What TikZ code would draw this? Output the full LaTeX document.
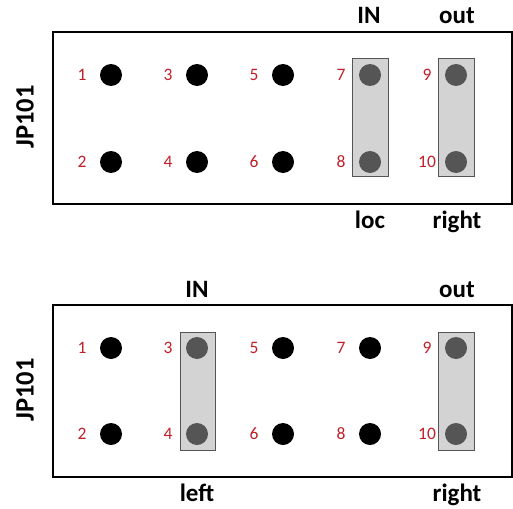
\documentclass[tikz,border=0pt]{standalone}
\usepackage{fontspec}
\setmainfont{Carlito}
\definecolor{pinred}{HTML}{C0202A}
\definecolor{jfill}{HTML}{D3D3D3}
\definecolor{jdraw}{HTML}{555555}
\definecolor{jpin}{HTML}{555555}
\tikzset{
  board/.style={draw=black, line width=2.4pt, fill=white},
  pin/.style={circle, fill=black, minimum size=22pt, inner sep=0pt},
  jpinstyle/.style={circle, fill=jpin, minimum size=22pt, inner sep=0pt},
  jumper/.style={draw=jdraw, line width=1pt, fill=jfill},
  num/.style={text=pinred, font=\fontsize{17.5}{20}\selectfont, inner sep=0pt},
  lbl/.style={font=\fontsize{25}{28}\selectfont\bfseries, inner sep=0pt, anchor=base},
  jp/.style={font=\fontsize{26.5}{30}\selectfont\bfseries, inner sep=0pt, rotate=90}
}
\begin{document}
\begin{tikzpicture}[x=1pt,y=-1pt]
\useasboundingbox (0,0) rectangle (513,508);
% ---------- top panel ----------
\draw[board] (53,32) rectangle (512,204);
\node[jp] (jpA) at (25,117) {JP101};
\draw[jumper] (352,59) rectangle (388,176);
\draw[jumper] (438,59) rectangle (474,176);
\foreach \n/\x/\y in {1/111/75,2/111/162,3/197/75,4/197/162,5/283/75,6/283/162}{
  \node[pin] (a\n) at (\x,\y) {};
  \node[num] (an\n) at (\x-29,\y) {\n};
}
\foreach \n/\x/\y in {7/370/75,8/370/162,9/456/75,10/456/162}{
  \node[jpinstyle] (a\n) at (\x,\y) {};
  \node[num] (an\n) at (\x-29,\y) {\n};
}
\node[lbl] (aIN) at (369,24) {IN};
\node[lbl] (aout) at (457,24) {out};
\node[lbl] (aloc) at (370,228) {loc};
\node[lbl] (aright) at (457,228) {right};
% ---------- bottom panel ----------
\draw[board] (53,305) rectangle (512,477);
\node[jp] (jpB) at (25,390) {JP101};
\draw[jumper] (180,332) rectangle (215,450);
\draw[jumper] (438,332) rectangle (474,450);
\foreach \n/\x/\y in {1/111/348,2/111/434,5/283/348,6/283/434,7/370/348,8/370/434}{
  \node[pin] (b\n) at (\x,\y) {};
  \node[num] (bn\n) at (\x-29,\y) {\n};
}
\foreach \n/\x/\y in {3/197/348,4/197/434,9/456/348,10/456/434}{
  \node[jpinstyle] (b\n) at (\x,\y) {};
  \node[num] (bn\n) at (\x-29,\y) {\n};
}
\node[lbl] (bIN) at (197,297) {IN};
\node[lbl] (bout) at (457,297) {out};
\node[lbl] (bleft) at (197,501) {left};
\node[lbl] (bright) at (457,501) {right};
\end{tikzpicture}
\end{document}
